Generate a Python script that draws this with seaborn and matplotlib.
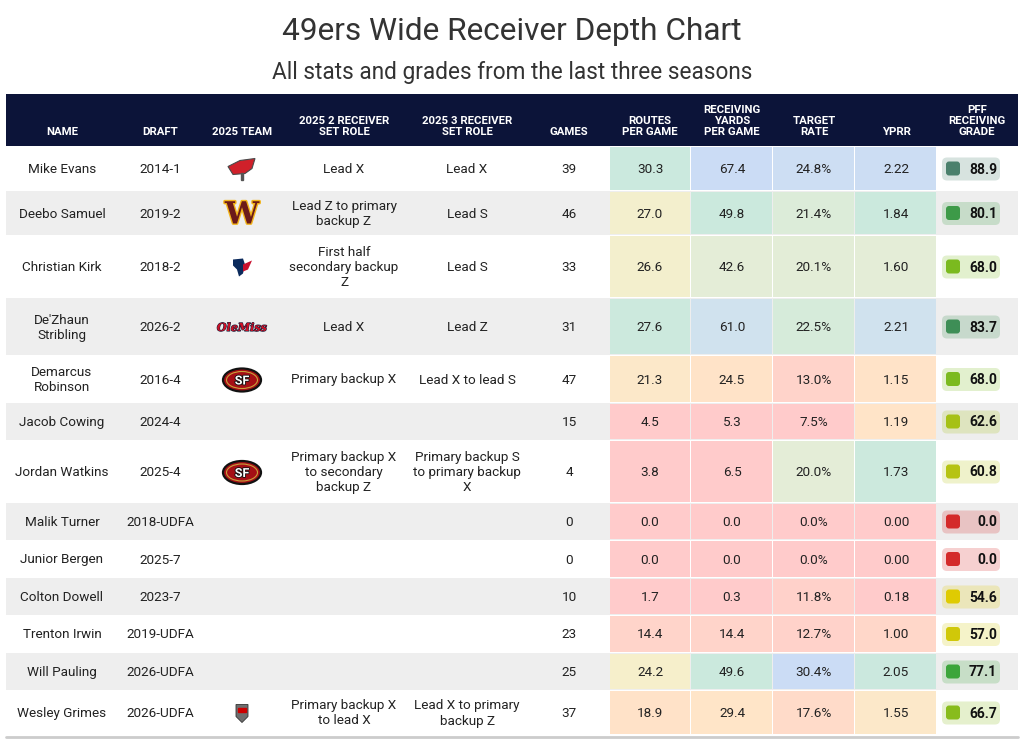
import numpy as np
import seaborn as sns
import matplotlib.pyplot as plt
import matplotlib as mpl
from matplotlib.patches import Rectangle, FancyBboxPatch, Ellipse, Polygon
import matplotlib.patheffects as pe

# ---- data ----
names = ["Mike Evans", "Deebo Samuel", "Christian Kirk", "De'Zhaun\nStribling",
         "Demarcus\nRobinson", "Jacob Cowing", "Jordan Watkins", "Malik Turner",
         "Junior Bergen", "Colton Dowell", "Trenton Irwin", "Will Pauling", "Wesley Grimes"]
draft = ["2014-1", "2019-2", "2018-2", "2026-2", "2016-4", "2024-4", "2025-4",
         "2018-UDFA", "2025-7", "2023-7", "2019-UDFA", "2026-UDFA", "2026-UDFA"]
teams = ["TB", "WAS", "HOU", "MISS", "SF", "", "SF", "", "", "", "", "", "NCST"]
role2 = ["Lead X", "Lead Z to primary\nbackup Z", "First half\nsecondary backup\nZ", "Lead X",
         "Primary backup X", "", "Primary backup X\nto secondary\nbackup Z", "", "", "", "", "",
         "Primary backup X\nto lead X"]
role3 = ["Lead X", "Lead S", "Lead S", "Lead Z", "Lead X to lead S", "",
         "Primary backup S\nto primary backup\nX", "", "", "", "", "", "Lead X to primary\nbackup Z"]
games = [39, 46, 33, 31, 47, 15, 4, 0, 0, 10, 23, 25, 37]
routes = [30.3, 27.0, 26.6, 27.6, 21.3, 4.5, 3.8, 0.0, 0.0, 1.7, 14.4, 24.2, 18.9]
yards = [67.4, 49.8, 42.6, 61.0, 24.5, 5.3, 6.5, 0.0, 0.0, 0.3, 14.4, 49.6, 29.4]
target = [24.8, 21.4, 20.1, 22.5, 13.0, 7.5, 20.0, 0.0, 0.0, 11.8, 12.7, 30.4, 17.6]
yprr = [2.22, 1.84, 1.60, 2.21, 1.15, 1.19, 1.73, 0.00, 0.00, 0.18, 1.00, 2.05, 1.55]
grade = [88.9, 80.1, 68.0, 83.7, 68.0, 62.6, 60.8, 0.0, 0.0, 54.6, 57.0, 77.1, 66.7]

headers = ["NAME", "DRAFT", "2025 TEAM", "2025 2 RECEIVER\nSET ROLE", "2025 3 RECEIVER\nSET ROLE",
           "GAMES", "ROUTES\nPER GAME", "RECEIVING\nYARDS\nPER GAME", "TARGET\nRATE", "YPRR",
           "PFF\nRECEIVING\nGRADE"]

# ---- layout (pixels) ----
col_x = [62, 160, 242, 344, 467, 569, 650, 732, 814, 896, 977]
stat_edges = [610, 691, 773, 855, 937]
row_h = [45, 44, 63, 57, 48, 37, 63, 37, 38, 37, 38, 37, 45]
table_top, head_top = 146, 94
left, right = 6, 1018

sns.set_theme(style="white")
plt.rcParams['font.family'] = ['Roboto', 'DejaVu Sans']

# colour scales
stat_cmap = mpl.colors.LinearSegmentedColormap.from_list("stat", [
    (0.0, "#ffcbcb"), (0.2, "#ffd7c9"), (0.35, "#ffe4c8"), (0.5, "#f6efcb"),
    (0.6, "#e4edd7"), (0.75, "#cbe9dd"), (0.88, "#d0e2ee"), (1.0, "#cbdcf5")])
stat_scales = [
    ([0, 8, 14.4, 19, 24, 27.2, 27.6, 31], [0, 0, 0.15, 0.33, 0.5, 0.52, 0.74, 0.76]),
    ([0, 8, 14.4, 24, 30, 42.6, 49.7, 61, 67.4], [0, 0, 0.15, 0.33, 0.36, 0.6, 0.75, 0.88, 1.0]),
    ([0, 8, 13, 17.6, 20, 22.5, 24.8, 30.4], [0, 0, 0.13, 0.25, 0.6, 0.68, 0.96, 1.0]),
    ([0, 0.5, 1.0, 1.15, 1.55, 1.6, 1.73, 2.05, 2.21, 2.22], [0, 0, 0.2, 0.34, 0.4, 0.6, 0.74, 0.76, 0.88, 0.97]),
]
grade_cmap = mpl.colors.LinearSegmentedColormap.from_list("grade", [
    (0.0, "#d42a2a"), (0.45, "#e07a10"), (0.54, "#e2cc00"), (0.6, "#bcc412"),
    (0.68, "#7dbb1e"), (0.77, "#3ca63a"), (0.84, "#3e8e56"), (0.89, "#4a806c"), (1.0, "#3f6f80")])

fig = plt.figure(figsize=(10.24, 7.42), dpi=100)
ax = fig.add_axes([0, 0, 1, 1])
ax.set_xlim(0, 1024)
ax.set_ylim(742, 0)
ax.axis("off")

ax.text(512, 32, "49ers Wide Receiver Depth Chart", ha="center", va="center",
        fontsize=22.8, color="#333333")
ax.text(512, 72, "All stats and grades from the last three seasons", ha="center", va="center",
        fontsize=16.3, color="#333333")

# header
ax.add_patch(Rectangle((left, head_top), right - left, table_top - head_top, color="#0c1439", lw=0))
for x, h in zip(col_x, headers):
    ax.text(x, 137, h, ha="center", va="bottom", fontsize=8.2, fontweight="bold",
            color="white", linespacing=1.1)


def draw_logo(team, x, y):
    if team == "TB":
        ax.add_patch(Polygon([(x - 14, y - 3), (x - 2, y - 9), (x + 13, y - 11), (x + 10, y - 1),
                              (x + 3, y + 4), (x - 9, y + 5)], closed=True,
                             fc="#d0202a", ec="#4a4a4a", lw=0.8))
        ax.add_patch(Rectangle((x - 1, y + 3), 2, 7, color="#555555"))
    elif team == "WAS":
        ax.text(x, y + 1, "W", ha="center", va="center", fontsize=22, fontweight="bold",
                family="DejaVu Serif", color="#6b1a1a",
                path_effects=[pe.withStroke(linewidth=2, foreground="#f2b41a")])
    elif team == "HOU":
        ax.add_patch(Polygon([(x - 9, y - 8), (x + 1, y - 9), (x + 3, y - 3), (x + 1, y + 6),
                              (x - 3, y + 9), (x - 5, y + 2), (x - 9, y - 2)], closed=True,
                             fc="#0b2a5c", lw=0))
        ax.add_patch(Polygon([(x + 1, y - 3), (x + 10, y - 7), (x + 6, y + 2), (x + 1, y + 4)],
                             closed=True, fc="#c8102e", lw=0))
    elif team == "MISS":
        ax.text(x, y, "OleMiss", ha="center", va="center", fontsize=8, fontweight="bold",
                style="italic", family="DejaVu Serif", color="#ce1126",
                path_effects=[pe.withStroke(linewidth=0.8, foreground="#14213d")])
    elif team == "SF":
        ax.add_patch(Ellipse((x, y), 38, 23, fc="#a50f15", ec="#111111", lw=1.6))
        ax.add_patch(Ellipse((x, y), 31, 17, fc="none", ec="#c9a13b", lw=0.8))
        ax.text(x, y + 1, "SF", ha="center", va="center", fontsize=9, fontweight="bold",
                color="white", path_effects=[pe.withStroke(linewidth=1.2, foreground="#111111")])
    elif team == "NCST":
        ax.add_patch(Polygon([(x - 6, y - 9), (x + 6, y - 9), (x + 6, y + 3), (x, y + 9),
                              (x - 6, y + 3)], closed=True, fc="#6e6e6e", ec="#333333", lw=0.6))
        ax.add_patch(Rectangle((x - 4, y - 6), 8, 4, color="#cc0000"))


stats = [routes, yards, target, yprr]
fmts = ["{:.1f}", "{:.1f}", "{:.1f}%", "{:.2f}"]
y0 = table_top
for i, h in enumerate(row_h):
    yc = y0 + h / 2 + 1
    row_bg = "#eeeeee" if i % 2 == 1 else "white"
    if i % 2 == 1:
        ax.add_patch(Rectangle((left, y0), right - left, h, color=row_bg, lw=0))
    # stat cells
    for j, vals in enumerate(stats):
        xp, fp = stat_scales[j]
        c = stat_cmap(np.interp(vals[i], xp, fp))
        ax.add_patch(Rectangle((stat_edges[j], y0 + 1), stat_edges[j + 1] - stat_edges[j] - 1, h - 2,
                               color=c, lw=0))
        ax.text(col_x[6 + j], yc, fmts[j].format(vals[i]), ha="center", va="center",
                fontsize=9.7, color="#222222")
    # plain columns
    for k, txt in zip([0, 1, 3, 4, 5], [names[i], draft[i], role2[i], role3[i], str(games[i])]):
        ax.text(col_x[k], yc, txt, ha="center", va="center", fontsize=9.7,
                color="#222222", linespacing=1.2)
    draw_logo(teams[i], col_x[2], yc)
    # grade badge
    gc = grade_cmap(grade[i] / 100)
    base = np.array(mpl.colors.to_rgb(row_bg))
    bg = 0.78 * base + 0.22 * np.array(gc[:3])
    ax.add_patch(FancyBboxPatch((942, yc - 12), 58, 23, boxstyle="round,pad=0,rounding_size=5",
                                fc=bg, ec="none"))
    ax.add_patch(FancyBboxPatch((946, yc - 8), 14, 14, boxstyle="round,pad=0,rounding_size=3",
                                fc=gc, ec="none"))
    ax.text(997, yc, "{:.1f}".format(grade[i]), ha="right", va="center", fontsize=10,
            fontweight="bold", color="#111111")
    y0 += h

ax.plot([left, right], [y0 + 2, y0 + 2], color="#cccccc", lw=2)

plt.savefig("out.png", dpi=100)
plt.close()
